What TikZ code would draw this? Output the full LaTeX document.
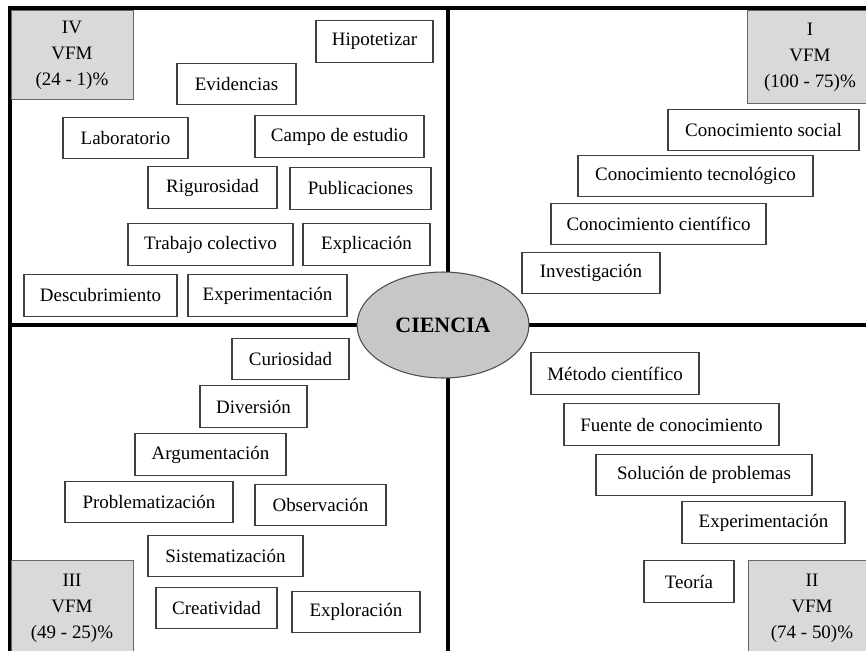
\documentclass[tikz,border=0pt]{standalone}
\usepackage{fontspec}
\setmainfont{Liberation Serif}
\usetikzlibrary{shapes.geometric}

\begin{document}
\begin{tikzpicture}[x=0.02cm,y=-0.02cm,font=\fontsize{10.8}{14.8}\selectfont]

                \tikzset{concepto/.style = {draw=black!75,line width=0.7pt,inner sep=0pt,minimum height=0.83cm,minimum width=#1}}
                \tikzset{cuadrante/.style = {draw=black!60,fill=black!15,line width=0.5pt,align=center,inner sep=0pt}}
                \tikzset{marco/.style = {line width=2.4pt,black}}
                \useasboundingbox (0,0) rectangle (866,650);

                % marco y ejes
                \coordinate (izq) at (10,325);
                \coordinate (der) at (875,325);
                \coordinate (arriba) at (448,8);
                \coordinate (abajo) at (448,655);
                \draw[marco] (10,655) -- (10,8) -- (875,8);
                \draw[marco] (izq) -- (der);
                \draw[marco] (arriba) -- (abajo);
                \node[ellipse,draw=black!70,fill=black!22,line width=0.6pt,minimum width=3.44cm,minimum height=2.12cm,inner sep=0pt,
                      font=\fontsize{12.5}{14}\selectfont\bfseries] (ciencia) at (443,325) {CIENCIA};

                % cuadrantes
                \node[cuadrante,minimum width=2.44cm,minimum height=1.78cm] (cIV) at (72,55) {IV\\VFM\\(24 - 1)\%};
                \node[cuadrante,minimum width=2.52cm,minimum height=1.86cm] (cI) at (810,57) {I\\VFM\\(100 - 75)\%};
                \node[cuadrante,minimum width=2.44cm,minimum height=1.92cm] (cIII) at (72,608) {III\\VFM\\(49 - 25)\%};
                \node[cuadrante,minimum width=2.56cm,minimum height=1.90cm] (cII) at (812,608) {II\\VFM\\(74 - 50)\%};

                % cuadrante IV
                \node[concepto=2.34cm] (hipotetizar) at (374.5,41.5) {Hipotetizar};
                \node[concepto=2.38cm] (evidencias) at (236.5,84) {Evidencias};
                \node[concepto=2.50cm] (laboratorio) at (125.5,138) {Laboratorio};
                \node[concepto=3.38cm] (campo) at (339.5,136.5) {Campo de estudio};
                \node[concepto=2.58cm] (rigurosidad) at (212.5,187.5) {Rigurosidad};
                \node[concepto=2.82cm] (publicaciones) at (360.5,188.5) {Publicaciones};
                \node[concepto=3.30cm] (trabajo) at (210.5,244.5) {Trabajo colectivo};
                \node[concepto=2.54cm] (explicacion) at (366.5,244.5) {Explicación};
                \node[concepto=3.06cm] (descubrimiento) at (100.5,295.5) {Descubrimiento};
                \node[concepto=3.18cm] (experimentacionA) at (267.5,295.5) {Experimentación};

                % cuadrante I
                \node[concepto=3.82cm] (social) at (763.5,130) {Conocimiento social};
                \node[concepto=4.70cm] (tecnologico) at (695.5,176) {Conocimiento tecnológico};
                \node[concepto=4.30cm] (cientifico) at (658.5,224) {Conocimiento científico};
                \node[concepto=2.76cm] (investigacion) at (591,273) {Investigación};

                % cuadrante III
                \node[concepto=2.34cm] (curiosidad) at (290.5,359) {Curiosidad};
                \node[concepto=2.14cm] (diversion) at (253.5,406.5) {Diversión};
                \node[concepto=3.02cm] (argumentacion) at (210.5,454.5) {Argumentación};
                \node[concepto=3.36cm] (problematizacion) at (149,502) {Problematización};
                \node[concepto=2.62cm] (observacion) at (320.5,505) {Observación};
                \node[concepto=3.10cm] (sistematizacion) at (225.5,556) {Sistematización};
                \node[concepto=2.42cm] (creatividad) at (216.5,608) {Creatividad};
                \node[concepto=2.56cm] (exploracion) at (356,612) {Exploración};

                % cuadrante II
                \node[concepto=3.36cm] (metodo) at (615,373.5) {Método científico};
                \node[concepto=4.30cm] (fuente) at (671.5,424.5) {Fuente de conocimiento};
                \node[concepto=4.32cm] (solucion) at (704,475) {Solución de problemas};
                \node[concepto=3.26cm] (experimentacionB) at (763.5,522.5) {Experimentación};
                \node[concepto=1.80cm] (teoria) at (689,581.5) {Teoría};
            \end{tikzpicture}
\end{document}
